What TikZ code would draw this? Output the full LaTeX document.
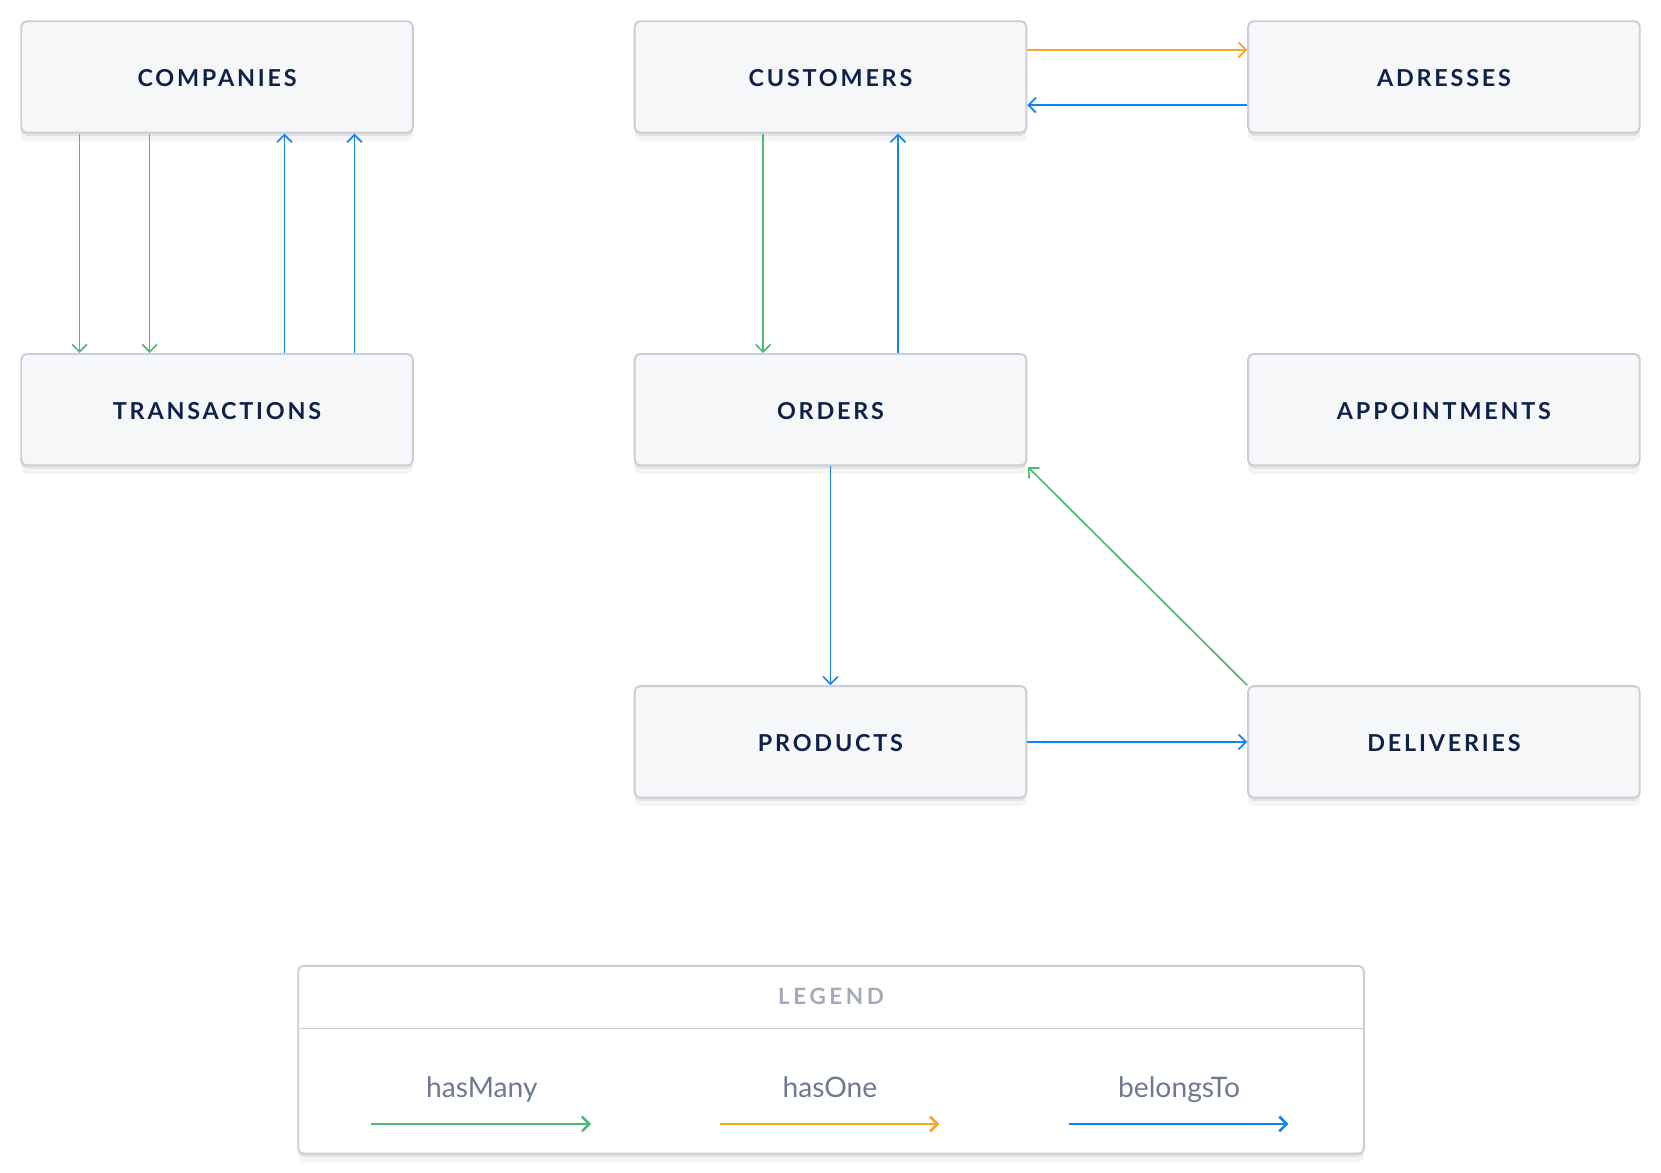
\documentclass[tikz,border=0pt]{standalone}
\usepackage{fontspec}
\setmainfont{Lato}
\usetikzlibrary{arrows.meta,shadows}
\definecolor{boxfill}{HTML}{F6F7F9}
\definecolor{boxline}{HTML}{C9CED8}
\definecolor{boxtext}{HTML}{0F2147}
\definecolor{manygreen}{HTML}{4DBB78}
\definecolor{oneorange}{HTML}{F5A623}
\definecolor{belongsblue}{HTML}{1284F7}
\definecolor{legendgray}{HTML}{A3ABBA}
\definecolor{labelgray}{HTML}{6E7A8F}
\tikzset{
    entity/.style={draw=boxline, line width=0.9pt, fill=boxfill, rounded corners=2.5pt,
        minimum width=184.5pt, minimum height=52.5pt, inner sep=0pt, text=boxtext,
        text height=9.4pt, text depth=0pt,
        font=\bfseries\fontsize{11}{13}\selectfont\addfontfeature{LetterSpace=12},
        drop shadow={shadow xshift=0pt, shadow yshift=-1.5pt, opacity=0.07, fill=black},
        drop shadow={shadow xshift=0pt, shadow yshift=-4pt, opacity=0.04, fill=black}},
    rel/.style={line width=0.8pt, -{Straight Barb[length=3.5pt,width=7pt]}},
    hasmany/.style={rel, draw=manygreen},
    hasone/.style={rel, draw=oneorange},
    belongs/.style={rel, draw=belongsblue},
    legendarrow/.style={line width=1.2pt},
    legendlabel/.style={text=labelgray, font=\fontsize{13.3}{16}\selectfont, inner sep=0pt, anchor=base},
}
\begin{document}
\begin{tikzpicture}[x=0.5pt, y=-0.5pt]
    \fill[white] (0,0) rectangle (1565,1105);
    \useasboundingbox (0,0) rectangle (1565,1105);

    % tables
    \node[entity] (comp) at (204.5,72.5) {COMPANIES};
    \node[entity] (cust) at (782.5,72.5) {CUSTOMERS};
    \node[entity] (addr) at (1360.5,72.5) {ADRESSES};
    \node[entity] (trans) at (204.5,386) {TRANSACTIONS};
    \node[entity] (orders) at (782.5,386) {ORDERS};
    \node[entity] (appt) at (1360.5,386) {APPOINTMENTS};
    \node[entity] (prod) at (782.5,699) {PRODUCTS};
    \node[entity] (deliv) at (1360.5,699) {DELIVERIES};

    % relations
    \foreach \x in {75,141} {
        \draw[hasmany] (comp.south -| \x,0) -- (trans.north -| \x,0);
    }
    \foreach \x in {268,334} {
        \draw[belongs] (trans.north -| \x,0) -- (comp.south -| \x,0);
    }
    \draw[hasmany] (cust.south -| 719,0) -- (orders.north -| 719,0);
    \draw[belongs] (orders.north -| 846,0) -- (cust.south -| 846,0);
    \draw[hasone] (cust.east |- 0,47) -- (addr.west |- 0,47);
    \draw[belongs] (addr.west |- 0,99) -- (cust.east |- 0,99);
    \draw[belongs] (orders.south) -- (prod.north);
    \draw[belongs] (prod.east) -- (deliv.west);
    \draw[hasmany, shorten >=0.5pt] (deliv.north west) -- (orders.south east);

    % legend
    \node[draw=boxline, line width=0.9pt, fill=white, rounded corners=2.5pt,
        minimum width=502pt, minimum height=88.5pt,
        drop shadow={shadow xshift=0pt, shadow yshift=-1.5pt, opacity=0.07, fill=black},
        drop shadow={shadow xshift=0pt, shadow yshift=-4pt, opacity=0.04, fill=black}]
        (legend) at (783,998.5) {};
    \node[text=legendgray, inner sep=0pt,
        font=\bfseries\fontsize{10.6}{12}\selectfont\addfontfeature{LetterSpace=16}]
        (legendtitle) at (783,939) {LEGEND};
    \draw[boxline, line width=0.9pt] (legend.west |- 0,969) -- (legend.east |- 0,969);
    \foreach \lbl/\x/\sty in {hasMany/454/hasmany, hasOne/782/hasone, belongsTo/1111/belongs} {
        \node[legendlabel] (l\lbl) at (\x,1034) {\lbl};
        \coordinate (l\lbl-start) at ({\x-104},1059);
        \coordinate (l\lbl-end) at ({\x+103},1059);
        \draw[\sty, legendarrow] (l\lbl-start) -- (l\lbl-end);
    }
\end{tikzpicture}
\end{document}
